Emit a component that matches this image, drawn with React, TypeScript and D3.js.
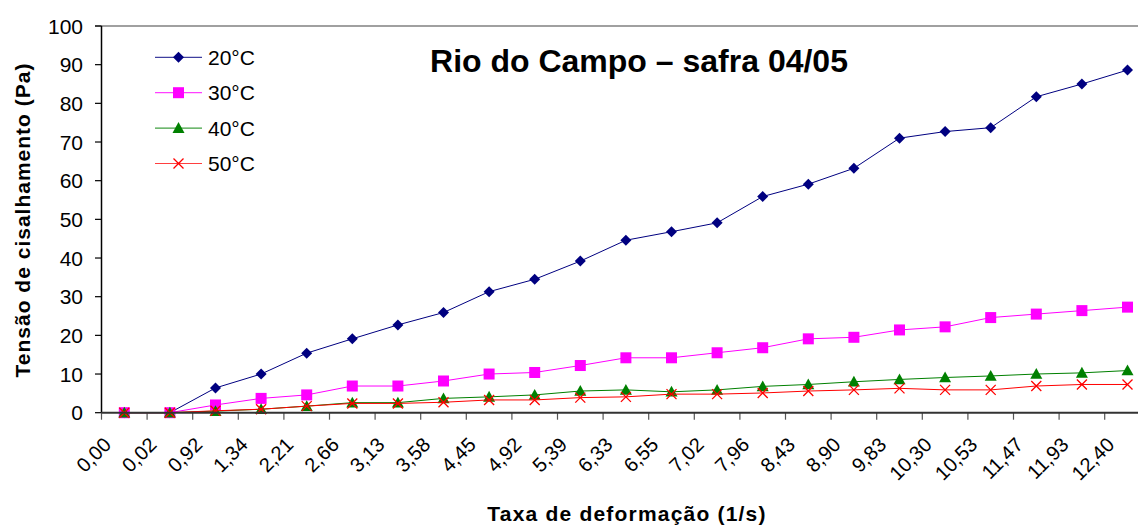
import React from "react";
import * as d3 from "d3";

const categories = ["0,00","0,02","0,92","1,34","2,21","2,66","3,13","3,58","4,45","4,92","5,39","6,33","6,55","7,02","7,96","8,43","8,90","9,83","10,30","10,53","11,47","11,93","12,40"];
const s20 = [0, 0, 6.4, 10.0, 15.4, 19.1, 22.7, 25.9, 31.3, 34.5, 39.2, 44.6, 46.8, 49.1, 55.9, 59.1, 63.2, 71.0, 72.7, 73.7, 81.7, 85.0, 88.6];
const s30 = [0, 0, 2.0, 3.7, 4.6, 6.9, 6.9, 8.2, 10.0, 10.4, 12.2, 14.2, 14.2, 15.5, 16.8, 19.1, 19.5, 21.4, 22.2, 24.6, 25.5, 26.4, 27.3];
const s40 = [0, 0, 0.4, 0.9, 1.7, 2.6, 2.6, 3.7, 4.1, 4.6, 5.6, 5.9, 5.4, 5.9, 6.8, 7.3, 8.0, 8.6, 9.1, 9.5, 10.0, 10.3, 10.9];
const s50 = [0, 0, 0.5, 0.9, 1.7, 2.4, 2.4, 2.7, 3.3, 3.3, 3.9, 4.1, 4.8, 4.8, 5.1, 5.6, 5.9, 6.3, 5.9, 5.9, 6.9, 7.3, 7.3];
const seriesNames = ["20°C", "30°C", "40°C", "50°C"];
const yTicks = [0, 10, 20, 30, 40, 50, 60, 70, 80, 90, 100];
const title = "Rio do Campo – safra 04/05";
const xTitle = "Taxa de deformação (1/s)";
const yTitle = "Tensão de cisalhamento (Pa)";

const W = 1138, H = 527;
const left = 101.5, top = 26, bottom = 412.7, band = 45.6;
const FONT = "Arial, 'Liberation Sans', sans-serif";

const seriesList = [
  { name: seriesNames[0], values: s20, color: "#000080", marker: "diamond" },
  { name: seriesNames[1], values: s30, color: "#FF00FF", marker: "square" },
  { name: seriesNames[2], values: s40, color: "#008000", marker: "triangle" },
  { name: seriesNames[3], values: s50, color: "#FF0000", marker: "x" },
];

function Marker({ type, x, y, color }: { type: string; x: number; y: number; color: string }) {
  if (type === "diamond") {
    const r = 5.5;
    return <path d={`M${x},${y - r}L${x + r},${y}L${x},${y + r}L${x - r},${y}Z`} fill={color} />;
  }
  if (type === "square") {
    const r = 5.5;
    return <rect x={x - r} y={y - r} width={2 * r} height={2 * r} fill={color} />;
  }
  if (type === "triangle") {
    const r = 6;
    return <path d={`M${x},${y - r}L${x + r},${y + r * 0.8}L${x - r},${y + r * 0.8}Z`} fill={color} />;
  }
  const r = 5;
  return (
    <path d={`M${x - r},${y - r}L${x + r},${y + r}M${x - r},${y + r}L${x + r},${y - r}`} stroke={color} strokeWidth={1.3} fill="none" />
  );
}

export default function App() {
  const x = d3.scaleBand<string>().domain(categories).range([left, left + band * categories.length]).padding(0);
  const y = d3.scaleLinear().domain([0, 100]).range([bottom, top]);
  const cx = (c: string) => (x(c) as number) + x.bandwidth() / 2;
  const line = d3.line<number>().x((_, i) => cx(categories[i])).y((v) => y(v));
  const tickXs = d3.range(categories.length + 1).map((i) => left + i * x.bandwidth());

  return (
    <svg width={W} height={H} style={{ position: "absolute", left: 0, top: 0, background: "#fff" }} fontFamily={FONT}>
      <rect x={0} y={0} width={W} height={H} fill="#fff" />
      {/* top border */}
      <line x1={95} x2={W} y1={y(100)} y2={y(100)} stroke="#808080" strokeWidth={1.5} />
      {/* y ticks */}
      {yTicks.map((t) => (
        <g key={t}>
          <line x1={95} x2={left} y1={y(t)} y2={y(t)} stroke="#000" strokeWidth={1.2} />
          <text x={83} y={y(t)} dy="0.36em" textAnchor="end" fontSize={21} fill="#000">{t}</text>
        </g>
      ))}
      {/* y axis */}
      <line x1={left} x2={left} y1={top} y2={bottom} stroke="#000" strokeWidth={1.5} />
      {/* x ticks */}
      {tickXs.map((tx, i) => (
        <line key={i} x1={tx} x2={tx} y1={bottom} y2={bottom + 7} stroke="#555" strokeWidth={1.2} />
      ))}
      {/* x labels */}
      {categories.map((c) => (
        <text key={c} transform={`translate(${cx(c) - 12},${446}) rotate(-45)`} textAnchor="end" fontSize={20} fill="#000">{c}</text>
      ))}
      {/* series */}
      {seriesList.map((s) => (
        <g key={s.name}>
          <path d={line(s.values) || ""} fill="none" stroke={s.color} strokeWidth={1} />
          {s.values.map((v, i) => (
            <Marker key={i} type={s.marker} x={cx(categories[i])} y={y(v)} color={s.color} />
          ))}
        </g>
      ))}
      {/* x axis */}
      <line x1={left} x2={W} y1={bottom} y2={bottom} stroke="#333" strokeWidth={2} />
      {/* legend */}
      {seriesList.map((s, i) => {
        const ly = 57.3 + i * 35.4;
        return (
          <g key={s.name}>
            <line x1={155} x2={202} y1={ly} y2={ly} stroke={s.color} strokeWidth={1.2} opacity={0.75} />
            <Marker type={s.marker} x={178.5} y={ly} color={s.color} />
            <text x={208} y={ly + 7.5} fontSize={21} fill="#000">{s.name}</text>
          </g>
        );
      })}
      {/* title */}
      <text x={639} y={72} textAnchor="middle" fontSize={32} fontWeight="bold" fill="#000">{title}</text>
      <text x={627} y={521} textAnchor="middle" fontSize={21} fontWeight="bold" letterSpacing={1.2} fill="#000">{xTitle}</text>
      <text transform={`translate(30,220) rotate(-90)`} textAnchor="middle" fontSize={21} fontWeight="bold" letterSpacing={1} fill="#000">{yTitle}</text>
    </svg>
  );
}
